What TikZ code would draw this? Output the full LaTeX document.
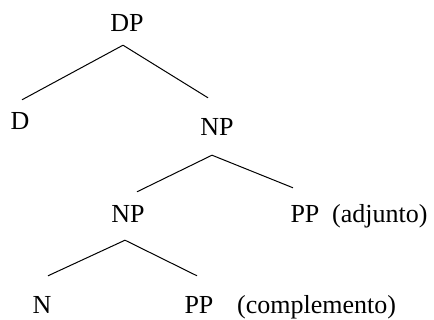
\documentclass[tikz,border=0pt]{standalone}
\usepackage{fontspec}
\setmainfont{Liberation Serif}
\begin{document}
\begin{tikzpicture}[x=1pt,y=-1pt,
  lbl/.style={font=\fontsize{26}{26}\selectfont, inner sep=0pt,
    text height=17pt, text depth=0pt, anchor=base},
  note/.style={lbl, anchor=base west},
  branch/.style={line width=1pt}]
\useasboundingbox (0,0) rectangle (434,320);
% category labels
\node[lbl] (dp)  at (127,32)  {DP};
\node[lbl] (d)   at (20,130)  {D};
\node[lbl] (np)  at (217,136) {NP};
\node[lbl] (np2) at (128,223) {NP};
\node[lbl] (pp)  at (305,223) {PP};
\node[lbl] (n)   at (42,314)  {N};
\node[lbl] (pp2) at (199,314) {PP};
% annotations
\node[note] (adj)  at (332,223) {(adjunto)};
\node[note] (comp) at (237,314) {(complemento)};
% branches
\draw[branch] ([xshift=-4pt,yshift=-13pt]dp.south) -- ([xshift=2pt,yshift=13pt]d.north);
\draw[branch] ([xshift=-4pt,yshift=-13pt]dp.south) -- ([xshift=-9pt,yshift=21pt]np.north);
\draw[branch] ([xshift=-5pt,yshift=-19pt]np.south) -- ([xshift=9pt,yshift=14pt]np2.north);
\draw[branch] ([xshift=-5pt,yshift=-19pt]np.south) -- ([xshift=-12pt,yshift=18pt]pp.north);
\draw[branch] ([xshift=-3pt,yshift=-17pt]np2.south) -- ([xshift=6pt,yshift=21pt]n.north);
\draw[branch] ([xshift=-3pt,yshift=-17pt]np2.south) -- ([xshift=-2pt,yshift=21pt]pp2.north);
\end{tikzpicture}
\end{document}
